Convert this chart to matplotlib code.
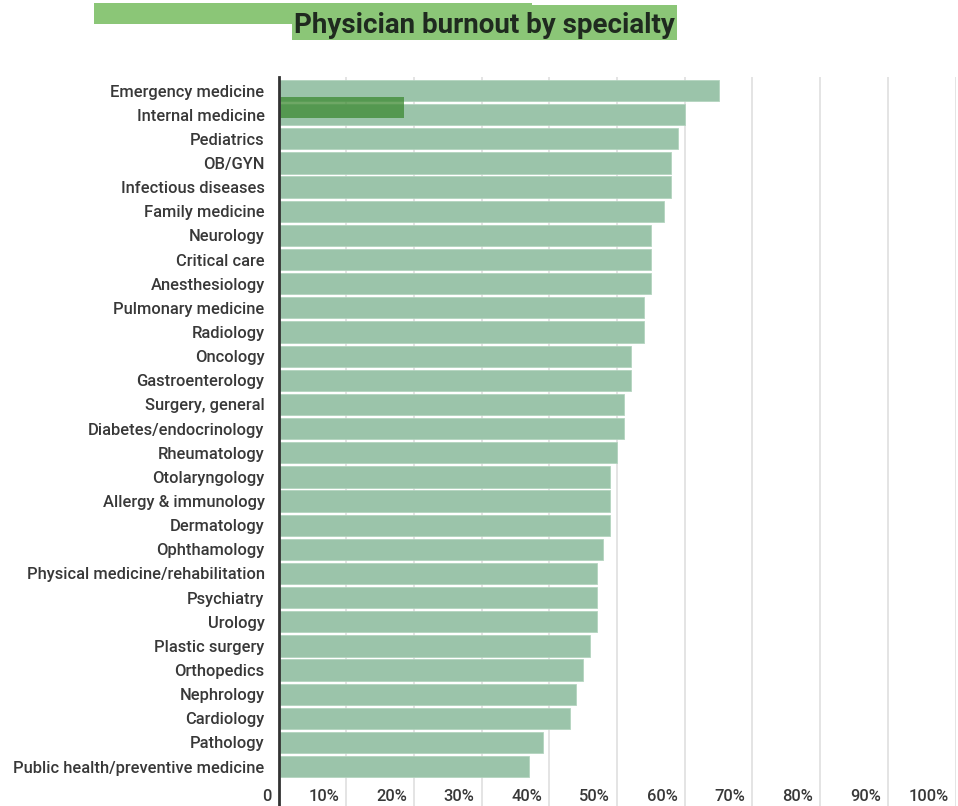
import matplotlib
matplotlib.use('Agg')
import matplotlib.pyplot as plt
import matplotlib.transforms as mtransforms
from matplotlib.patches import Rectangle

# burnout share (%) by specialty, top to bottom
specialties = [
    'Emergency medicine', 'Internal medicine', 'Pediatrics', 'OB/GYN',
    'Infectious diseases', 'Family medicine', 'Neurology', 'Critical care',
    'Anesthesiology', 'Pulmonary medicine', 'Radiology', 'Oncology',
    'Gastroenterology', 'Surgery, general', 'Diabetes/endocrinology',
    'Rheumatology', 'Otolaryngology', 'Allergy & immunology', 'Dermatology',
    'Ophthamology', 'Physical medicine/rehabilitation', 'Psychiatry',
    'Urology', 'Plastic surgery', 'Orthopedics', 'Nephrology', 'Cardiology',
    'Pathology', 'Public health/preventive medicine',
]
burnout = [65, 60, 59, 58, 58, 57, 55, 55, 55, 54, 54, 52, 52, 51, 51,
           50, 49, 49, 49, 48, 47, 47, 47, 46, 45, 44, 43, 39, 37]

# stray highlight bar sitting over the internal medicine row
hl_row = 1
hl_value = 18.5

x_ticks = [0, 10, 20, 30, 40, 50, 60, 70, 80, 90, 100]
x_labels = ['0', '10%', '20%', '30%', '40%', '50%', '60%', '70%', '80%',
            '90%', '100%']

BAR = '#9bc4aa'
HL = '#3d8a32'
TITLE_BG = '#8bc677'
TXT = '#383838'
FONT = 'Roboto'
FS = 11.9

W, H = 958, 806
fig = plt.figure(figsize=(W / 100, H / 100), dpi=100)
fig.patch.set_facecolor('white')

def px(x0, y0, x1, y1):
    # pixel box (top-left origin) -> figure fraction rect
    return [x0 / W, 1 - y1 / H, (x1 - x0) / W, (y1 - y0) / H]

ax = fig.add_axes(px(278.5, 77, 955.5, 806))

ys = list(range(len(specialties)))
ax.barh(ys, burnout, height=0.88, color=BAR, edgecolor='#b4d4bf',
        linewidth=0.6, zorder=2)
ax.barh(hl_row - 0.30, hl_value, height=0.88, color=HL, alpha=0.75,
        linewidth=0, zorder=3)

ax.set_xlim(0, 100)
ax.set_ylim(len(specialties) - 1 + 1.63, -0.56)

ax.set_yticks(ys)
ax.set_yticklabels(specialties, fontfamily=FONT, fontweight='medium',
                   fontsize=FS, color=TXT)
ax.tick_params(axis='y', length=0, pad=10)

ax.set_xticks(x_ticks)
ax.set_xticklabels(x_labels, fontfamily=FONT, fontweight='medium',
                   fontsize=FS, color=TXT)
ax.tick_params(axis='x', length=0, pad=-12.5)
shift = mtransforms.ScaledTranslation(-7 / 100, 0, fig.dpi_scale_trans)
for lbl in ax.get_xticklabels():
    lbl.set_horizontalalignment('right')
    lbl.set_transform(lbl.get_transform() + shift)

for v in x_ticks[1:]:
    ax.axvline(v, color='#e2e2e2', lw=1.3, zorder=1)

for sp in ['top', 'right', 'bottom']:
    ax.spines[sp].set_visible(False)
ax.spines['left'].set_color('#333333')
ax.spines['left'].set_linewidth(2)
ax.spines['left'].set_zorder(4)

# title strip and highlight box
strip = px(94, 3, 532, 24)
box = px(292, 5, 677, 40)
fig.add_artist(Rectangle(strip[:2], *strip[2:], transform=fig.transFigure,
                         facecolor=TITLE_BG, edgecolor='none', zorder=1))
fig.add_artist(Rectangle(box[:2], *box[2:], transform=fig.transFigure,
                         facecolor=TITLE_BG, edgecolor='none', zorder=2))
fig.text(484.5 / W, 1 - 33 / H, 'Physician burnout by specialty',
         ha='center', va='baseline', fontfamily=FONT, fontweight='bold',
         fontsize=20, color='#1f2a1f', zorder=3)

fig.savefig('out.png', dpi=100, facecolor='white')
